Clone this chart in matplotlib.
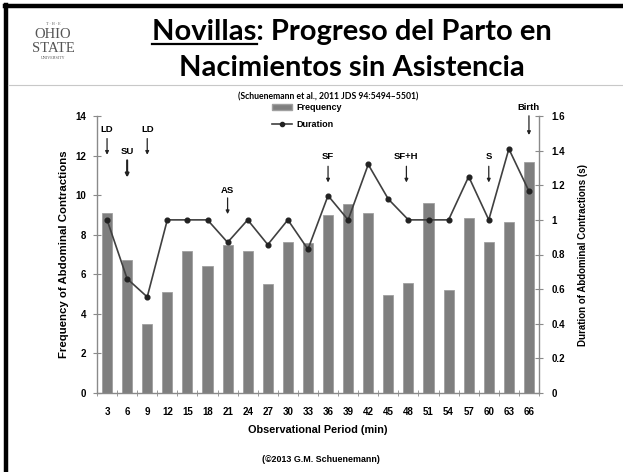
import numpy as np
import matplotlib.pyplot as plt
from matplotlib.lines import Line2D
from matplotlib.patches import Patch

# observation periods (min) and the two series
periods = [3, 6, 9, 12, 15, 18, 21, 24, 27, 30, 33, 36, 39, 42, 45, 48, 51, 54, 57, 60, 63, 66]
frequency = [9.1, 6.7, 3.5, 5.1, 7.2, 6.4, 7.5, 7.2, 5.5, 7.65, 7.6, 9.0, 9.55, 9.1,
             4.97, 5.57, 9.6, 5.2, 8.87, 7.63, 8.65, 11.7]
duration = [1.0, 0.66, 0.555, 1.0, 1.0, 1.0, 0.87, 1.0, 0.857, 1.0, 0.83, 1.14, 1.0, 1.32,
            1.12, 1.0, 1.0, 1.0, 1.25, 1.0, 1.41, 1.166]

# event annotations: label, period, label height, arrow start, arrow end (left-axis units)
events = [("LD", 3, 13.3, 13.0, 11.9),
          ("SU", 6, 12.2, 11.9, 10.75),
          ("LD", 9, 13.3, 13.0, 11.9),
          ("AS", 21, 10.25, 10.0, 8.9),
          ("SF", 36, 11.95, 11.6, 10.5),
          ("SF+H", 47.7, 11.95, 11.6, 10.5),
          ("S", 60, 11.95, 11.6, 10.5),
          ("Birth", 66, 14.45, 14.15, 12.9)]

plt.rcParams['font.family'] = ['Liberation Sans', 'DejaVu Sans']

W, H = 623, 472
fig = plt.figure(figsize=(W / 100, H / 100), dpi=100)
fig.patch.set_facecolor("white")


def fx(px):
    return px / W


def fy(py):
    return 1 - py / H


# slide frame (left + top thick black), header separator
fig.add_artist(Line2D([fx(6), fx(6)], [0, fy(5)], color="black", lw=3.2))
fig.add_artist(Line2D([fx(5), 1], [fy(6), fy(6)], color="black", lw=3.2))
fig.add_artist(Line2D([fx(8), 1], [fy(85), fy(85)], color="#c8c8c8", lw=0.8))

# logo as text
logo_c = "#555555"
fig.text(fx(53), fy(24), "T · H · E", ha="center", va="center", fontsize=3,
         family="Liberation Serif", color=logo_c)
fig.text(fx(53), fy(34), "OHIO", ha="center", va="center", fontsize=10.5,
         family="Liberation Serif", color=logo_c)
fig.text(fx(53), fy(48), "STATE", ha="center", va="center", fontsize=10.5,
         family="Liberation Serif", color=logo_c)
fig.text(fx(53), fy(58), "UNIVERSITY", ha="center", va="center", fontsize=3,
         family="Liberation Serif", color=logo_c)

# title, with "Novillas" underlined
title_kw = dict(ha="center", va="baseline", fontsize=21, fontweight="bold", family="Lato")
t1 = fig.text(fx(352), fy(40), "Novillas: Progreso del Parto en", **title_kw)
fig.text(fx(352), fy(76), "Nacimientos sin Asistencia", **title_kw)
renderer = fig.canvas.get_renderer()
bb1 = t1.get_window_extent(renderer)
tmp = fig.text(0, 0, "Novillas", fontsize=21, fontweight="bold", family="Lato")
w_nov = tmp.get_window_extent(renderer).width
tmp.remove()
fig.add_artist(Line2D([bb1.x0 / W, (bb1.x0 + w_nov) / W], [fy(43.5), fy(43.5)],
                      color="black", lw=1.6))

fig.text(fx(328), fy(97), "(Schuenemann et al., 2011 JDS 94:5494\u20135501)",
         ha="center", va="center", fontsize=6.2, fontweight="bold", family="Lato")
fig.text(fx(321), fy(459), "(\u00a92013 G.M. Schuenemann)", ha="center", va="center",
         fontsize=6.4, fontweight="bold")

# axes
ax = fig.add_axes([fx(97), fy(393), (539 - 97) / W, (393 - 116) / H])
ax2 = ax.twinx()
x = np.arange(len(periods))

ax.bar(x, frequency, width=0.5, color="#7f7f7f", edgecolor="#a0a0a0", lw=0.6, zorder=2)
ax2.plot(x, duration, color="#404040", lw=1.2, marker="o", ms=3.4,
         markerfacecolor="#222222", markeredgecolor="#222222", zorder=3)

ax.set_xlim(-0.5, len(periods) - 0.5)
ax.set_ylim(0, 14)
ax2.set_ylim(0, 1.6)
ax.set_yticks(np.arange(0, 15, 2))
ax2.set_yticks(np.arange(0, 1.61, 0.2))
ax2.set_yticklabels(["0", "0.2", "0.4", "0.6", "0.8", "1", "1.2", "1.4", "1.6"])
ax.set_xticks(x)
ax.set_xticklabels([str(p) for p in periods])
ax.set_xticks(np.arange(-0.5, len(periods), 1), minor=True)

axis_c = "#8a8a8a"
for a in (ax, ax2):
    for s in a.spines.values():
        s.set_color(axis_c)
        s.set_linewidth(1.0)
    a.spines["top"].set_visible(False)
ax.spines["right"].set_visible(False)
ax2.spines["left"].set_visible(False)
ax2.spines["bottom"].set_visible(False)

ax.tick_params(axis="x", which="major", length=0, pad=10, labelsize=7)
ax.tick_params(axis="x", which="minor", direction="inout", length=5, color=axis_c)
ax.tick_params(axis="y", direction="inout", length=6, color=axis_c, labelsize=7, pad=5)
ax2.tick_params(axis="y", direction="inout", length=6, color=axis_c, labelsize=7, pad=6)
for lab in ax.get_xticklabels() + ax.get_yticklabels() + ax2.get_yticklabels():
    lab.set_fontweight("bold")

ax.set_xlabel("Observational Period (min)", fontsize=7.8, fontweight="bold", labelpad=6)
ax.set_ylabel("Frequency of Abdominal Contractions", fontsize=8.2, fontweight="bold",
              labelpad=4)
ax2.set_ylabel("Duration of Abdominal Contractions (s)", fontsize=7, fontweight="bold",
               labelpad=9)

# event arrows
for lab, per, ylab, y0, y1 in events:
    xi = (per - periods[0]) / 3.0
    ax.annotate("", xy=(xi, y1), xytext=(xi, y0), annotation_clip=False,
                arrowprops=dict(arrowstyle="-|>", color="#222222",
                                lw=1.5 if lab == "SU" else 0.9, mutation_scale=5))
    ax.text(xi, ylab, lab, ha="center", va="center", fontsize=6.8, fontweight="bold",
            clip_on=False)

handles = [Patch(facecolor="#7f7f7f", edgecolor="#a0a0a0"),
           Line2D([], [], color="#404040", lw=1.2, marker="o", ms=3,
                  markerfacecolor="#222222", markeredgecolor="#222222")]
fig.legend(handles, ["Frequency", "Duration"], loc="upper left",
           bbox_to_anchor=(fx(272), fy(103)), frameon=False,
           prop=dict(weight="bold", size=6.5), handlelength=2.2, labelspacing=0.9,
           handletextpad=0.5, borderaxespad=0, borderpad=0)

fig.savefig("out.png", dpi=100, facecolor="white")
